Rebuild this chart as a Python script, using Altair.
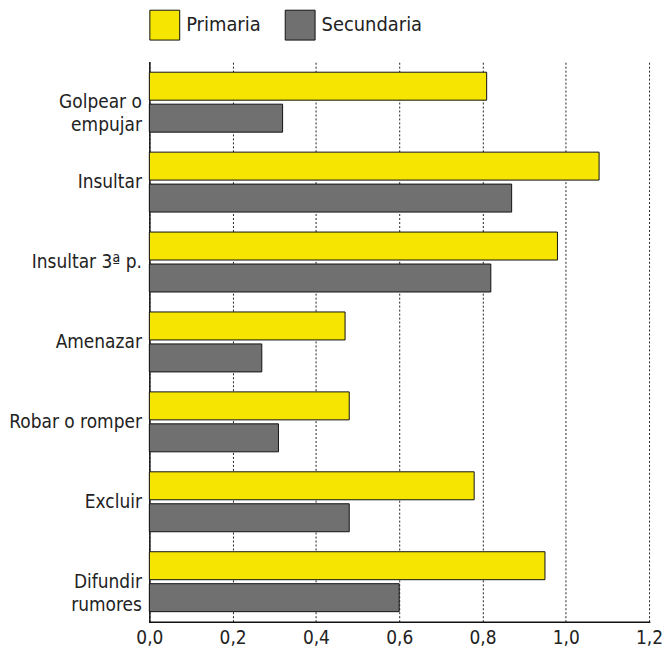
import altair as alt
import pandas as pd

categories = ["Golpear o empujar", "Insultar", "Insultar 3ª p.", "Amenazar",
              "Robar o romper", "Excluir", "Difundir rumores"]
series = ["Primaria", "Secundaria"]
primaria = [0.81, 1.08, 0.98, 0.47, 0.48, 0.78, 0.95]
secundaria = [0.32, 0.87, 0.82, 0.27, 0.31, 0.48, 0.60]
colors = ["#F5E500", "#707071"]
x_ticks = [0, 0.2, 0.4, 0.6, 0.8, 1.0, 1.2]

rows = []
for c, p, s in zip(categories, primaria, secundaria):
    rows.append({"cat": c, "serie": "Primaria", "val": p})
    rows.append({"cat": c, "serie": "Secundaria", "val": s})
df = pd.DataFrame(rows)

FONT = "DejaVu Sans Condensed, sans-serif"

label_expr = ("datum.label == 'Golpear o empujar' ? ['Golpear o', 'empujar'] : "
              "datum.label == 'Difundir rumores' ? ['Difundir', 'rumores'] : datum.label")

chart = alt.Chart(df).mark_bar(stroke="#111", strokeWidth=1).encode(
    y=alt.Y("cat:N", sort=categories, title=None,
            scale=alt.Scale(paddingInner=0.25, paddingOuter=0.125),
            axis=alt.Axis(ticks=False, labelPadding=8, labelFontSize=19,
                          labelFont=FONT, labelColor="#222", labelExpr=label_expr,
                          labelLineHeight=23, domainColor="#111", domainWidth=1.5,
                          labelLimit=300, minExtent=140, maxExtent=140)),
    yOffset=alt.YOffset("serie:N", sort=series,
                        scale=alt.Scale(paddingInner=0.125, paddingOuter=0)),
    x=alt.X("val:Q", title=None,
            scale=alt.Scale(domain=[0, 1.2], nice=False),
            axis=alt.Axis(values=x_ticks, ticks=False,
                          labelPadding=7, labelFontSize=19, labelFont=FONT,
                          labelColor="#222",
                          labelExpr="replace(format(datum.value, '.1f'), '.', ',')",
                          grid=True, gridDash=[2, 2], gridColor="#222",
                          gridWidth=1, domainColor="#111", domainWidth=1.5,
                          labelFlush=False)),
    color=alt.Color("serie:N", sort=series,
                    scale=alt.Scale(domain=series, range=colors),
                    legend=alt.Legend(title=None, orient="none", legendX=0,
                                      legendY=-53, direction="horizontal",
                                      symbolType="square", symbolSize=900,
                                      symbolStrokeColor="#111", symbolStrokeWidth=1,
                                      symbolOpacity=1,
                                      labelFontSize=20, labelFont=FONT,
                                      labelColor="#222", labelOffset=6,
                                      columnPadding=22)),
).properties(
    width=502, height=562,
    padding={"left": 0, "top": 0, "right": 0, "bottom": 0},
).configure_view(stroke=None).configure_axis(domainCap="square")

chart.save("out.html", embed_options={"renderer": "svg", "actions": False})
